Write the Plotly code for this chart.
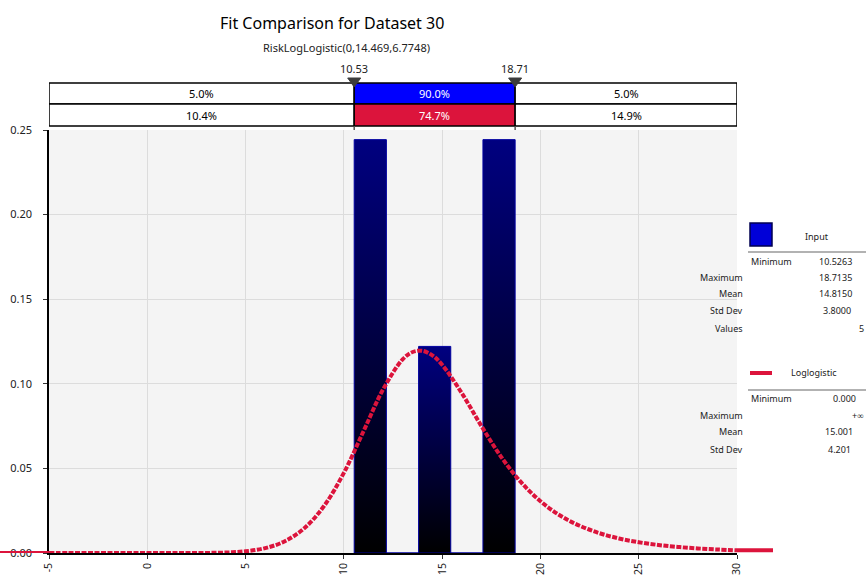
import plotly.graph_objects as go

# ---------------- data ----------------
bin_edges = [10.5263, 12.1637, 13.8012, 15.4386, 17.0761, 18.7135]
bin_density = [0.2443, 0.0, 0.1221, 0.0, 0.2443]

curve_x = [-5, -4, -3, -2, -1, 0, 1, 2, 3, 4, 5, 6, 7, 8, 9, 10, 11, 12, 13,
           13.5, 14, 14.5, 15, 16, 17, 18, 19, 20, 21, 22, 23, 24, 25, 26, 27,
           28, 29, 30]
curve_y = [0, 0, 0, 0, 0, 0, 0.0, 0.000005, 0.00005, 0.00028, 0.00101, 0.00289,
           0.00696, 0.01475, 0.0279, 0.04737, 0.07194, 0.09678, 0.11455,
           0.11879, 0.11948, 0.11680, 0.11125, 0.09446, 0.07497, 0.05687,
           0.04200, 0.03058, 0.02216, 0.01608, 0.01171, 0.00859, 0.00635,
           0.00474, 0.00356, 0.00270, 0.00207, 0.00159]

x_ticks = [-5, 0, 5, 10, 15, 20, 25, 30]
y_ticks = [0.00, 0.05, 0.10, 0.15, 0.20, 0.25]

delimiters = [10.5263, 18.7135]
delimiter_labels = ["10.53", "18.71"]
input_pcts = ["5.0%", "90.0%", "5.0%"]
fit_pcts = ["10.4%", "74.7%", "14.9%"]

title_text = "Fit Comparison for Dataset 30"
subtitle_text = "RiskLogLogistic(0,14.469,6.7748)"

input_stat_names = ["Minimum", "Maximum", "Mean", "Std Dev", "Values"]
input_stat_values = ["10.5263", "18.7135", "14.8150", "3.8000", "5"]
fit_stat_names = ["Minimum", "Maximum", "Mean", "Std Dev"]
fit_stat_values = ["0.000", "+∞", "15.001", "4.201"]

# ---------------- styling / layout helpers ----------------
FONT = "Noto Sans"
RED = "#dc143c"
L, R, T, B = 49, 737, 130, 553
W, H = 866, 577


def px(x):
    return (x - L) / (R - L)


def py(y):
    return (B - y) / (B - T)


fig = go.Figure()

# histogram bars (gradient filled)
for i, h in enumerate(bin_density):
    x0, x1 = bin_edges[i], bin_edges[i + 1]
    kw = {}
    if h > 0:
        kw = dict(fill="toself",
                  fillgradient=dict(type="vertical",
                                    colorscale=[[0, "#000000"], [1, "#000080"]]))
    fig.add_trace(go.Scatter(
        x=[x0, x0, x1, x1, x0], y=[0, h, h, 0, 0], mode="lines",
        line=dict(color="#0000a0", width=1), hoverinfo="skip",
        showlegend=False, **kw))

# fitted curve
fig.add_trace(go.Scatter(
    x=curve_x, y=curve_y, mode="lines",
    line=dict(color=RED, width=4, dash="5px,1.5px", shape="spline"),
    hoverinfo="skip", showlegend=False))

shapes = []
annotations = []

# solid red extensions of curve outside plot
shapes.append(dict(type="line", xref="paper", yref="y", x0=px(0), x1=0,
                   y0=curve_y[0], y1=curve_y[0], line=dict(color=RED, width=4)))
shapes.append(dict(type="line", xref="paper", yref="y", x0=1, x1=px(773),
                   y0=curve_y[-1], y1=curve_y[-1], line=dict(color=RED, width=4)))

# delimiter boxes
xr = [x_ticks[0], x_ticks[-1]]
seg = [xr[0], delimiters[0], delimiters[1], xr[1]]
rows = [(py(104), py(83), input_pcts, "#0000ff"),
        (py(126), py(104), fit_pcts, RED)]
for (y0, y1, pcts, col) in rows:
    for k in range(3):
        fill = col if k == 1 else "white"
        shapes.append(dict(type="rect", xref="x", yref="paper",
                           x0=seg[k], x1=seg[k + 1], y0=y0, y1=y1,
                           fillcolor=fill, line=dict(color="black", width=1.5),
                           layer="above"))
        annotations.append(dict(
            x=(seg[k] + seg[k + 1]) / 2, y=(y0 + y1) / 2, xref="x", yref="paper",
            text=pcts[k], showarrow=False, xanchor="center", yanchor="middle",
            font=dict(family=FONT, size=11,
                      color="white" if k == 1 else "black")))

for d, lab in zip(delimiters, delimiter_labels):
    shapes.append(dict(type="line", xref="x", yref="paper", x0=d, x1=d,
                       y0=1, y1=py(126), line=dict(color="#555555", width=1.5)))
    shapes.append(dict(type="path", xref="x", yref="paper",
                       xsizemode="pixel", ysizemode="pixel",
                       xanchor=d, yanchor=py(83),
                       path="M -6.5 5 L 6.5 5 L 0 -4 Z",
                       fillcolor="#3c3c3c", line=dict(color="#3c3c3c", width=1),
                       layer="above"))
    annotations.append(dict(x=d, y=py(68), xref="x", yref="paper", text=lab,
                            showarrow=False, xanchor="center", yanchor="middle",
                            font=dict(family=FONT, size=11, color="#222")))

# titles
annotations.append(dict(x=px(332), y=py(23), xref="paper", yref="paper",
                        text=title_text, showarrow=False, xanchor="center",
                        yanchor="middle",
                        font=dict(family=FONT, size=16, color="black")))
annotations.append(dict(x=px(346), y=py(47), xref="paper", yref="paper",
                        text=subtitle_text, showarrow=False, xanchor="center",
                        yanchor="middle",
                        font=dict(family=FONT, size=11, color="#222")))

# right-hand stats panel
SF = dict(family=FONT, size=9, color="#222")
shapes.append(dict(type="rect", xref="paper", yref="paper",
                   x0=px(750), x1=px(772), y0=py(246), y1=py(223),
                   fillcolor="#0000d8", line=dict(color="#000050", width=1.5)))
annotations.append(dict(x=px(817), y=py(236), xref="paper", yref="paper",
                        text="Input", showarrow=False, xanchor="center",
                        yanchor="middle", font=SF))
shapes.append(dict(type="line", xref="paper", yref="paper",
                   x0=px(748), x1=px(866), y0=py(252), y1=py(252),
                   line=dict(color="#999999", width=1.5)))
in_rows_y = [261, 277, 293, 310, 328]
in_val_x = [854, 854, 854, 853, 866]
for i, (n, v) in enumerate(zip(input_stat_names, input_stat_values)):
    if i == 0:
        annotations.append(dict(x=px(749), y=py(in_rows_y[i]), xref="paper",
                                yref="paper", text=n, showarrow=False,
                                xanchor="left", yanchor="middle", font=SF))
    else:
        annotations.append(dict(x=px(745), y=py(in_rows_y[i]), xref="paper",
                                yref="paper", text=n, showarrow=False,
                                xanchor="right", yanchor="middle", font=SF))
    annotations.append(dict(x=px(in_val_x[i]), y=py(in_rows_y[i]), xref="paper",
                            yref="paper", text=v, showarrow=False,
                            xanchor="right", yanchor="middle", font=SF))

shapes.append(dict(type="line", xref="paper", yref="paper",
                   x0=px(750), x1=px(772), y0=py(373), y1=py(373),
                   line=dict(color=RED, width=4)))
annotations.append(dict(x=px(814), y=py(372), xref="paper", yref="paper",
                        text="Loglogistic", showarrow=False, xanchor="center",
                        yanchor="middle", font=SF))
shapes.append(dict(type="line", xref="paper", yref="paper",
                   x0=px(748), x1=px(866), y0=py(390), y1=py(390),
                   line=dict(color="#999999", width=1.5)))
fit_rows_y = [399, 415, 432, 449]
fit_val_x = [858, 866, 855, 853]
for i, (n, v) in enumerate(zip(fit_stat_names, fit_stat_values)):
    if i == 0:
        annotations.append(dict(x=px(749), y=py(fit_rows_y[i]), xref="paper",
                                yref="paper", text=n, showarrow=False,
                                xanchor="left", yanchor="middle", font=SF))
    else:
        annotations.append(dict(x=px(745), y=py(fit_rows_y[i]), xref="paper",
                                yref="paper", text=n, showarrow=False,
                                xanchor="right", yanchor="middle", font=SF))
    annotations.append(dict(x=px(fit_val_x[i]), y=py(fit_rows_y[i]), xref="paper",
                            yref="paper", text=v, showarrow=False,
                            xanchor="right", yanchor="middle", font=SF))

fig.update_layout(
    width=W, height=H,
    margin=dict(l=L, r=W - R, t=T, b=H - B, pad=0, autoexpand=False),
    paper_bgcolor="white", plot_bgcolor="#f4f4f4",
    showlegend=False,
    shapes=shapes, annotations=annotations,
    font=dict(family=FONT, size=11, color="#222"),
    xaxis=dict(range=xr, tickvals=x_ticks, ticktext=[str(t) for t in x_ticks],
               tickangle=-90, showgrid=True, gridcolor="#dcdcdc", gridwidth=1,
               zeroline=False, showline=True, linecolor="black", linewidth=1.5,
               ticks="outside", ticklen=4, tickcolor="#333", automargin=False,
               ticklabelstandoff=0,
               tickfont=dict(family=FONT, size=10.5, color="#222")),
    yaxis=dict(range=[y_ticks[0], y_ticks[-1]], tickvals=y_ticks,
               tickformat=".2f", showgrid=True, gridcolor="#dcdcdc",
               gridwidth=1, zeroline=False, showline=True, linecolor="black",
               linewidth=1.5, ticks="outside", ticklen=4, tickcolor="#333",
               automargin=False, ticklabelstandoff=9,
               tickfont=dict(family=FONT, size=11, color="#222")),
)

fig.write_html("out.html",
               config={"displayModeBar": False},
               post_script="document.body.style.margin='0';"
                           "document.body.style.overflow='hidden';")
